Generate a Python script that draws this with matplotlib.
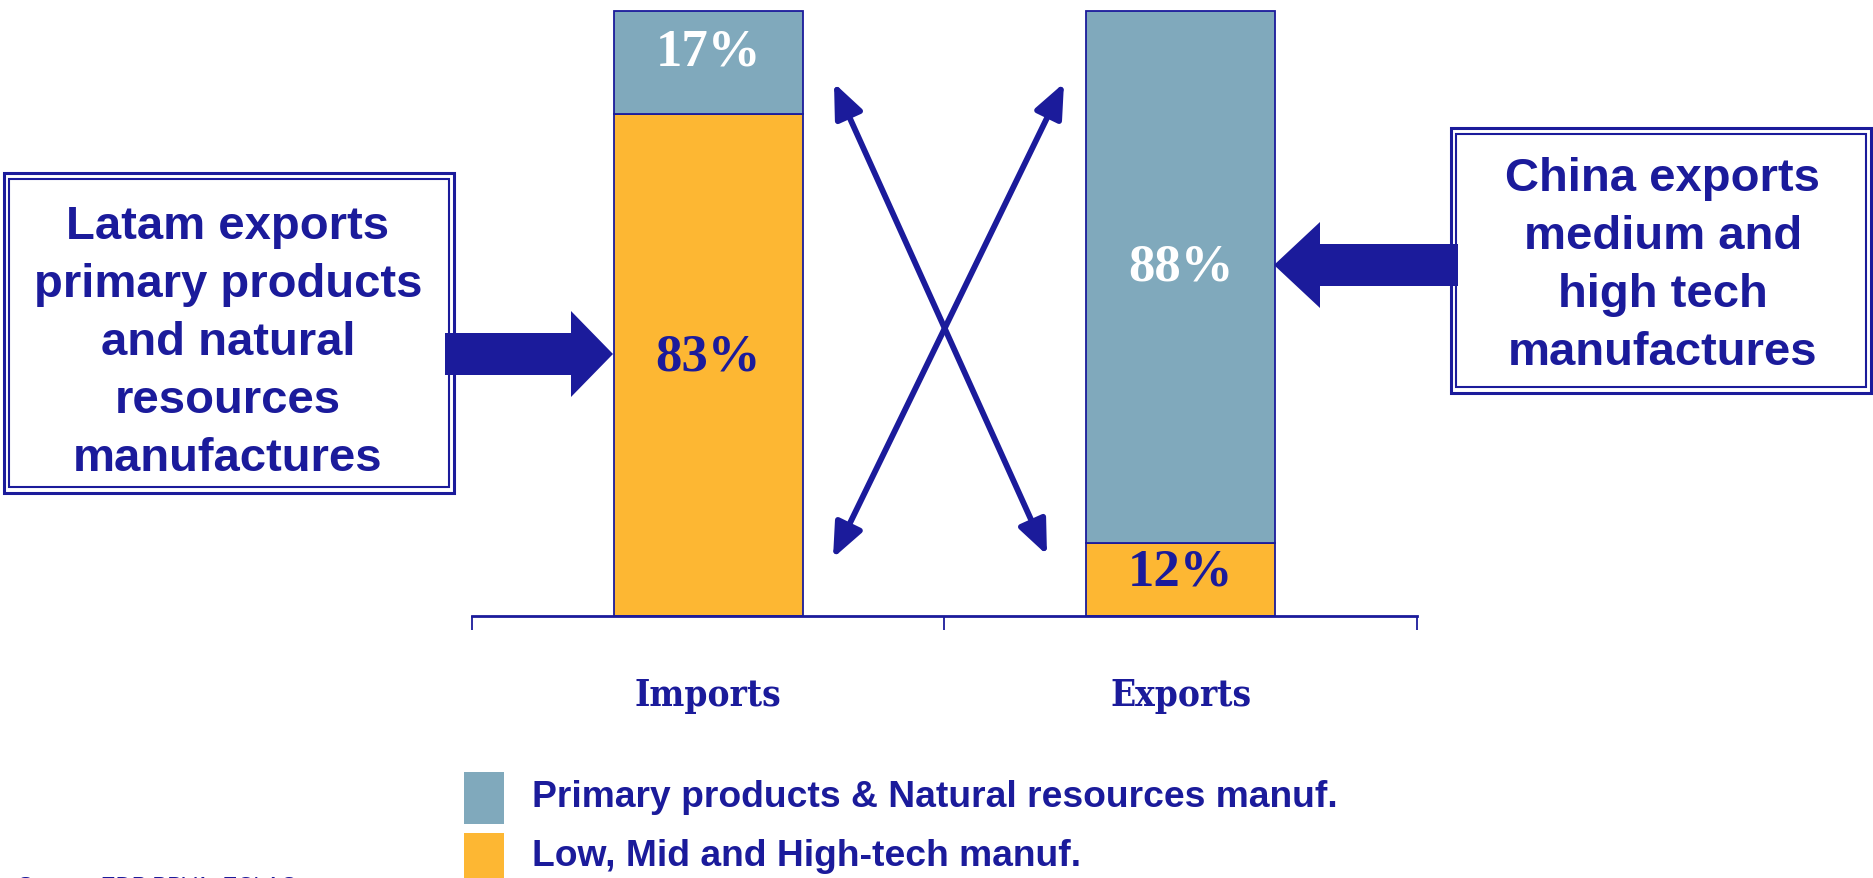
import matplotlib
matplotlib.use('Agg')
import matplotlib.pyplot as plt
from matplotlib.patches import Rectangle, FancyArrow, FancyArrowPatch
import numpy as np

# ---- data ----
categories = ['Imports', 'Exports']
primary_share = [17, 88]        # Primary products & natural resources manuf.
manuf_share = [83, 12]          # Low, mid and high-tech manuf.
series_labels = ['Primary products & Natural resources manuf.',
                 'Low, Mid and High-tech manuf.']
left_note = 'Latam exports\nprimary products\nand natural\nresources\nmanufactures'
right_note = 'China exports\nmedium and\nhigh tech\nmanufactures'
source_note = 'Source: EDP BBVA, ECLAC'

NAVY = '#1B1B9B'
BLUE = '#80A9BC'
ORANGE = '#FDB733'

W, H = 1874, 879
fig = plt.figure(figsize=(W / 100, H / 100), dpi=100)
fig.patch.set_facecolor('white')

# overlay (pixel coordinates, y downward) for boxes and arrows
ov = fig.add_axes([0, 0, 1, 1], zorder=0)
ov.set_xlim(0, W)
ov.set_ylim(H, 0)
ov.axis('off')

# main bar axes
ax = fig.add_axes([472 / W, 1 - 617 / H, (1417 - 472) / W, (617 - 12) / H], zorder=1)
ax.patch.set_alpha(0)
x = np.arange(len(categories))
bw = 0.4
ax.bar(x, manuf_share, width=bw, color=ORANGE, edgecolor=NAVY, linewidth=1.3, clip_on=False)
ax.bar(x, primary_share, bottom=manuf_share, width=bw, color=BLUE, edgecolor=NAVY,
       linewidth=1.3, clip_on=False)
ax.set_xlim(-0.5, 1.5)
ax.set_ylim(0, 100)
for s in ['top', 'right', 'left']:
    ax.spines[s].set_visible(False)
ax.spines['bottom'].set_color(NAVY)
ax.spines['bottom'].set_linewidth(2)
ax.set_yticks([])
ax.set_xticks([-0.5, 0.5, 1.5])
ax.set_xticklabels([])
ax.tick_params(axis='x', which='major', direction='out', length=10, width=1.3, color=NAVY)
ax.set_xticks(x, minor=True)
ax.set_xticklabels(categories, minor=True)
ax.tick_params(axis='x', which='minor', length=0, pad=44, labelsize=26.5, labelcolor=NAVY)
for lab in ax.get_xticklabels(minor=True):
    lab.set_family('DejaVu Serif')
    lab.set_fontstretch('condensed')
    lab.set_fontweight('bold')

pct_font = dict(family='Liberation Serif', fontweight='bold', fontsize=38, ha='center',
                va='center', textcoords='offset points')
for i in range(len(categories)):
    ax.annotate(f'{manuf_share[i]}%', (x[i], manuf_share[i] / 2), xytext=(0, 6),
                color=NAVY, **pct_font)
    ax.annotate(f'{primary_share[i]}%', (x[i], manuf_share[i] + primary_share[i] / 2),
                xytext=(0, 8), color='white', **pct_font)

# ---- note boxes (double border) ----
def dbl_box(x0, y0, x1, y1):
    ov.add_patch(Rectangle((x0, y0), x1 - x0, y1 - y0, fill=True, facecolor='white',
                           edgecolor=NAVY, lw=2.2))
    ov.add_patch(Rectangle((x0 + 5, y0 + 6), x1 - x0 - 10, y1 - y0 - 12, fill=False,
                           edgecolor=NAVY, lw=1.5))

dbl_box(4, 174, 454, 494)
dbl_box(1451, 129, 1871, 394)
note_font = dict(family='Liberation Sans', fontweight='bold', fontsize=34, color=NAVY,
                 ha='center', va='center', linespacing=1.41)
ov.text(228, 343, left_note, **note_font)
ov.text(1663, 266, right_note, **note_font)

# ---- block arrows ----
ov.add_patch(FancyArrow(445, 355, 168, 0, width=42, head_width=86, head_length=42,
                        length_includes_head=True, color=NAVY, lw=0, zorder=3))
ov.add_patch(FancyArrow(1458, 266, -184, 0, width=42, head_width=86, head_length=46,
                        length_includes_head=True, color=NAVY, lw=0, zorder=3))

# ---- crossing double arrows ----
for p0, p1 in [((834, 84), (1047, 556)), ((1064, 84), (833, 559))]:
    ov.add_patch(FancyArrowPatch(p0, p1, arrowstyle='<|-|>,head_length=1.3,head_width=0.55',
                                 mutation_scale=16, lw=4.2, color=NAVY,
                                 shrinkA=0, shrinkB=0, zorder=3))

# ---- legend ----
ov.add_patch(Rectangle((464, 773), 40, 52, facecolor=BLUE, edgecolor='none'))
ov.add_patch(Rectangle((464, 834), 40, 52, facecolor=ORANGE, edgecolor='none'))
leg_font = dict(family='Liberation Sans', fontweight='bold',
                fontsize=26.8, color=NAVY, ha='left', va='center')
ov.text(532, 798, series_labels[0], **leg_font)
ov.text(532, 857, series_labels[1], **leg_font)

# ---- source (cut off at the bottom edge, as in the original) ----
ov.text(18, 876, source_note, family='Liberation Sans', fontsize=16, color=NAVY,
        ha='left', va='top')

fig.savefig('out.png', dpi=100)
